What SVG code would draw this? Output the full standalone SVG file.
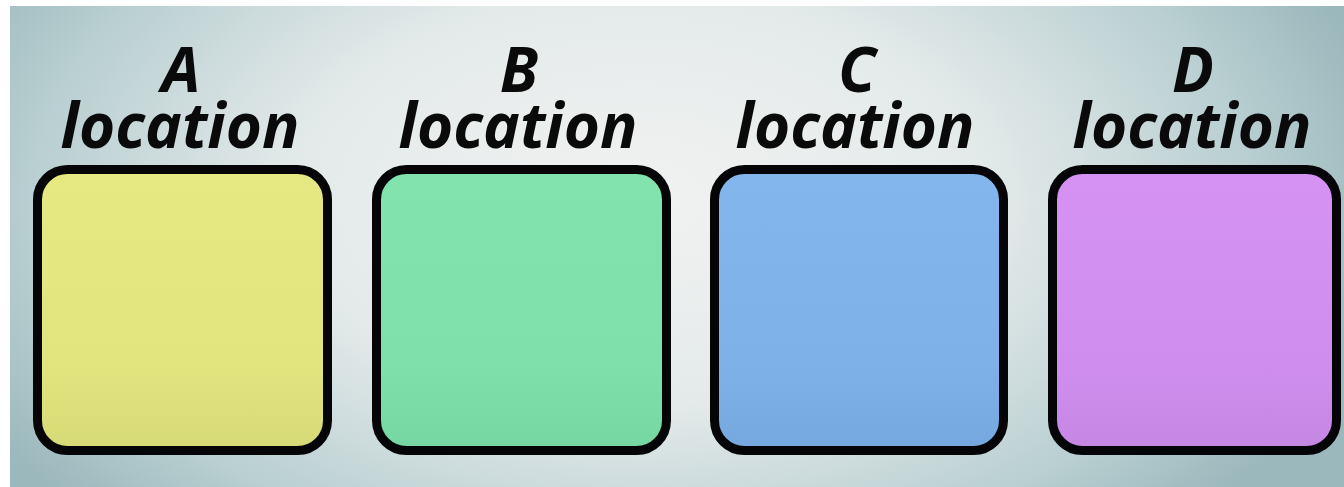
<svg xmlns="http://www.w3.org/2000/svg" width="1344" height="487" viewBox="0 0 1344 487">
  <defs>
    <radialGradient id="bg" cx="640" cy="200" r="760" gradientUnits="userSpaceOnUse" gradientTransform="translate(640 200) scale(1 0.6) translate(-640 -200)">
      <stop offset="0" stop-color="#f1f2f1"/>
      <stop offset="0.45" stop-color="#e4eaea"/>
      <stop offset="0.8" stop-color="#b9cfd1"/>
      <stop offset="1" stop-color="#9bb8bc"/>
    </radialGradient>
    <linearGradient id="gA" x1="0" y1="0" x2="0" y2="1">
      <stop offset="0" stop-color="#e6e882"/>
      <stop offset="0.7" stop-color="#e2e47e"/>
      <stop offset="1" stop-color="#d6da76"/>
    </linearGradient>
    <linearGradient id="gB" x1="0" y1="0" x2="0" y2="1">
      <stop offset="0" stop-color="#83e3ae"/>
      <stop offset="0.7" stop-color="#80e0ab"/>
      <stop offset="1" stop-color="#76d6a2"/>
    </linearGradient>
    <linearGradient id="gC" x1="0" y1="0" x2="0" y2="1">
      <stop offset="0" stop-color="#82b6ec"/>
      <stop offset="0.7" stop-color="#7eb1e8"/>
      <stop offset="1" stop-color="#74a8de"/>
    </linearGradient>
    <linearGradient id="gD" x1="0" y1="0" x2="0" y2="1">
      <stop offset="0" stop-color="#d592f2"/>
      <stop offset="0.7" stop-color="#cf8eee"/>
      <stop offset="1" stop-color="#c487e2"/>
    </linearGradient>
  </defs>
  <style>
    .box { stroke: #050508; stroke-width: 9; }
    .label { font-family: "Open Sans", "Noto Sans", "Liberation Sans", sans-serif; font-weight: 700; font-style: italic; font-size: 62px; fill: #0a0a0a; text-anchor: middle; }
  </style>

  <!-- backdrop with white margin strips -->
  <rect x="0" y="0" width="1344" height="487" fill="#ffffff"/>
  <rect x="10" y="6" width="1334" height="481" fill="url(#bg)"/>

  <g id="node-a">
    <rect class="box" x="37.5" y="169.5" width="290" height="281" rx="30" fill="url(#gA)"/>
    <text class="label" x="181" y="92">A</text>
    <text class="label" x="180" y="148">location</text>
  </g>
  <g id="node-b">
    <rect class="box" x="376.5" y="169.5" width="290" height="281" rx="30" fill="url(#gB)"/>
    <text class="label" x="519" y="92">B</text>
    <text class="label" x="518" y="148">location</text>
  </g>
  <g id="node-c">
    <rect class="box" x="714.5" y="169.5" width="289" height="281" rx="30" fill="url(#gC)"/>
    <text class="label" x="857" y="92">C</text>
    <text class="label" x="855" y="148">location</text>
  </g>
  <g id="node-d">
    <rect class="box" x="1052.5" y="169.5" width="284" height="281" rx="30" fill="url(#gD)"/>
    <text class="label" x="1193" y="92">D</text>
    <text class="label" x="1192" y="148">location</text>
  </g>

  <g id="connectors"/>
</svg>
